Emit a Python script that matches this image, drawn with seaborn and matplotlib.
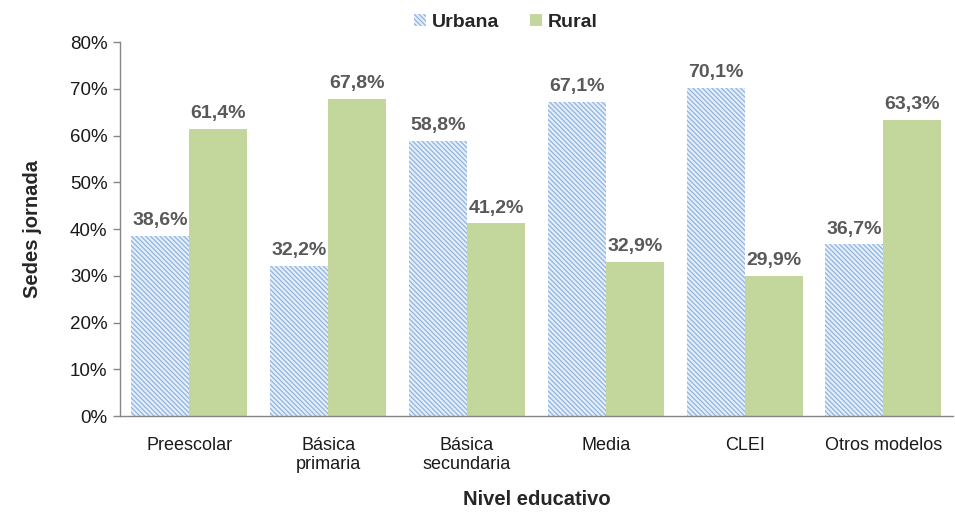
import matplotlib.pyplot as plt
import matplotlib.ticker as mtick
import pandas as pd
import seaborn as sns

niveles = ["Preescolar", "Básica\nprimaria", "Básica\nsecundaria", "Media", "CLEI", "Otros modelos"]
urbana = [38.6, 32.2, 58.8, 67.1, 70.1, 36.7]
rural = [61.4, 67.8, 41.2, 32.9, 29.9, 63.3]
zonas = ["Urbana", "Rural"]

palette = {
    'Urbana': '#E6EEF8',
    'Rural': '#C3D69B',
}
hatch_color = '#8EB4E3'
hatch = '\\' * 7
text_gray = '#595959'

df = pd.DataFrame({
    'nivel': niveles * 2,
    'zona': ['Urbana'] * len(niveles) + ['Rural'] * len(niveles),
    'valor': urbana + rural,
})

sns.set_theme(style="white")
plt.rcParams['font.family'] = ['Liberation Sans', 'DejaVu Sans']
plt.rcParams['hatch.linewidth'] = 0.9

fig = plt.figure(figsize=(9.55, 5.13), dpi=100)
ax = fig.add_axes([0.1257, 0.189, 0.872, 0.729])

sns.barplot(data=df, x='nivel', y='valor', hue='zona', hue_order=zonas,
            palette=palette, width=0.835, gap=0, saturation=1, ax=ax, legend=False)

for container, zona in zip(ax.containers, zonas):
    for bar in container:
        if zona == 'Urbana':
            bar.set_hatch(hatch)
            bar.set_edgecolor(hatch_color)
        bar.set_linewidth(0)
    ax.bar_label(container, labels=[f"{v:.1f}%".replace('.', ',') for v in container.datavalues],
                 padding=5, fontsize=14, fontweight='bold', color=text_gray)

ax.set_ylim(0, 80)
ax.set_xlim(-0.5, len(niveles) - 0.5)
ax.yaxis.set_major_locator(mtick.MultipleLocator(10))
ax.yaxis.set_major_formatter(mtick.PercentFormatter(decimals=0))
ax.tick_params(axis='y', left=True, length=5, width=1, color='#868686', labelsize=13.5, labelcolor='#1a1a1a', pad=4)
ax.tick_params(axis='x', bottom=False, labelsize=13, labelcolor='#1a1a1a', pad=9)

for side in ['top', 'right']:
    ax.spines[side].set_visible(False)
for side in ['left', 'bottom']:
    ax.spines[side].set_color('#868686')
    ax.spines[side].set_linewidth(1)

ax.set_xlabel("Nivel educativo", fontsize=14.5, fontweight='bold', labelpad=12)
ax.set_ylabel("Sedes jornada", fontsize=14.5, fontweight='bold', labelpad=20)

handles = [
    plt.Rectangle((0, 0), 1, 1, facecolor=palette['Urbana'], edgecolor=hatch_color, hatch=hatch, linewidth=0),
    plt.Rectangle((0, 0), 1, 1, facecolor=palette['Rural'], linewidth=0),
]
leg = fig.legend(handles, zonas, loc='center', bbox_to_anchor=(0.53, 0.957), ncol=2, frameon=False,
                 handlelength=0.6, handleheight=0.6, handletextpad=0.3, columnspacing=1.6,
                 prop={'weight': 'bold', 'size': 14})

fig.savefig("out.png", dpi=100)
